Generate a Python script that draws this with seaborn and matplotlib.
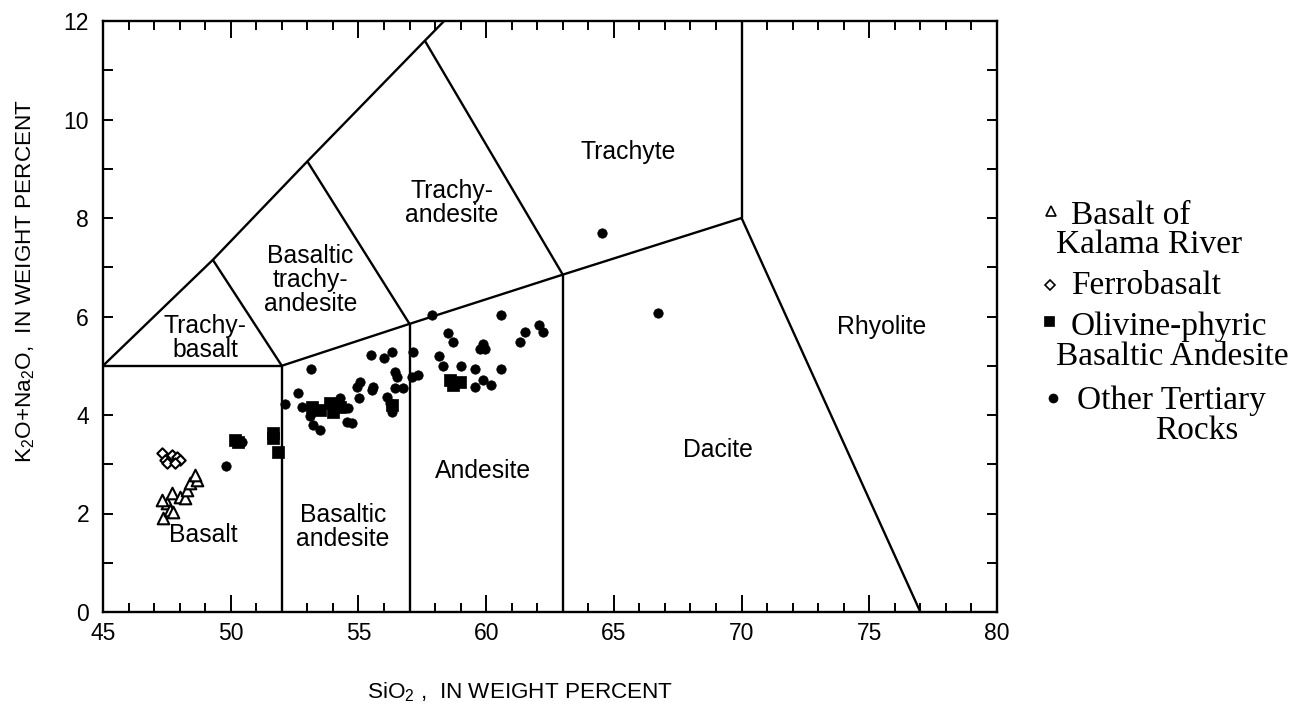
import numpy as np
import pandas as pd
import matplotlib
matplotlib.use("Agg")
import matplotlib.pyplot as plt
import seaborn as sns
from matplotlib.lines import Line2D
from matplotlib.ticker import MultipleLocator

# ---------------- data ----------------
kalama_sio2 = [47.36, 47.49, 47.62, 47.75, 47.30, 47.69, 48.01, 48.21, 48.28, 48.41, 48.67, 48.60]
kalama_alk = [1.90, 2.21, 2.07, 2.04, 2.27, 2.41, 2.34, 2.31, 2.48, 2.61, 2.68, 2.78]

ferro_sio2 = [47.30, 47.43, 47.49, 47.69, 47.88, 48.01, 47.82]
ferro_alk = [3.22, 3.09, 3.02, 3.19, 3.15, 3.09, 3.02]

olivine_sio2 = [50.17, 50.30, 51.64, 51.64, 51.87, 53.17, 53.50, 53.89, 54.28, 54.00,
                56.30, 58.59, 58.98, 58.72]
olivine_alk = [3.49, 3.46, 3.63, 3.53, 3.25, 4.17, 4.10, 4.24, 4.17, 4.07,
               4.20, 4.71, 4.68, 4.61]

other_sio2 = [49.82, 50.43, 52.13, 52.65, 53.13, 52.78, 53.10, 53.24, 53.50, 54.28,
              54.60, 54.54, 54.74, 54.93, 55.06, 55.04, 55.52, 55.58, 55.48, 56.00,
              56.30, 56.43, 56.50, 56.43, 56.11, 56.24, 56.30, 56.76, 57.15, 57.09,
              57.35, 57.87, 60.58, 66.74, 58.50, 58.72, 58.17, 58.30, 59.02, 59.57,
              59.87, 59.76, 59.96, 60.58, 59.89, 59.57, 60.19, 61.33, 61.52, 62.08,
              62.24, 64.55]
other_alk = [2.97, 3.46, 4.22, 4.44, 4.93, 4.17, 3.97, 3.80, 3.70, 4.34,
             4.14, 3.86, 3.84, 4.57, 4.68, 4.34, 4.51, 4.57, 5.22, 5.15,
             5.27, 4.88, 4.78, 4.54, 4.37, 4.24, 4.07, 4.54, 5.27, 4.78,
             4.81, 6.03, 6.03, 6.08, 5.66, 5.49, 5.20, 5.00, 5.00, 4.94,
             5.44, 5.33, 5.33, 4.94, 4.71, 4.56, 4.61, 5.49, 5.69, 5.83,
             5.69, 7.69]

# TAS field boundaries (SiO2, alkali) as drawn in the reference
boundary_x = [
    [45.0, 49.3, 53.0, 57.6, 61.0],
    [45.0, 52.0],
    [52.0, 52.0],
    [49.3, 52.0],
    [52.0, 57.0, 63.0, 70.0],
    [57.0, 57.0],
    [63.0, 63.0],
    [53.0, 57.0],
    [57.6, 63.0],
    [70.0, 70.0],
    [70.0, 77.0],
]
boundary_y = [
    [5.0, 7.15, 9.15, 11.6, 13.4],
    [5.0, 5.0],
    [0.0, 5.0],
    [7.15, 5.0],
    [5.0, 5.85, 6.85, 8.0],
    [0.0, 5.85],
    [0.0, 6.85],
    [9.15, 5.85],
    [11.6, 6.85],
    [8.0, 12.5],
    [8.0, 0.0],
]

field_names = ["Trachyte", "Trachy-\nandesite", "Basaltic\ntrachy-\nandesite",
               "Trachy-\nbasalt", "Rhyolite", "Dacite", "Andesite",
               "Basaltic\nandesite", "Basalt"]
field_x = [65.56, 58.66, 53.12, 48.99, 75.5, 69.08, 59.88, 54.4, 48.92]
field_y = [9.34, 8.30, 6.74, 5.56, 5.79, 3.29, 2.86, 1.73, 1.56]

x_ticks = [45, 50, 55, 60, 65, 70, 75, 80]
y_ticks = [0, 2, 4, 6, 8, 10, 12]

legend_labels = [["Basalt of", "Kalama River"], ["Ferrobasalt"],
                 ["Olivine-phyric", "Basaltic Andesite"], ["Other Tertiary", "Rocks"]]

# ---------------- styling ----------------
sns.set_theme(style="white")
plt.rcParams['font.family'] = ['Liberation Sans', 'DejaVu Sans']
plt.rcParams['mathtext.fontset'] = 'custom'
plt.rcParams['mathtext.rm'] = 'Liberation Sans'
plt.rcParams['mathtext.it'] = 'Liberation Sans'
plt.rcParams['mathtext.bf'] = 'Liberation Sans'

W, H = 1316, 711
fig = plt.figure(figsize=(W / 100, H / 100), dpi=100)
ax = fig.add_axes([103 / W, 1 - 612 / H, 894 / W, 591 / H])

for bx, by in zip(boundary_x, boundary_y):
    ax.plot(bx, by, color="black", lw=1.7, solid_capstyle="butt", zorder=2)

df_k = pd.DataFrame({"SiO2": kalama_sio2, "Alk": kalama_alk})
df_f = pd.DataFrame({"SiO2": ferro_sio2, "Alk": ferro_alk})
df_o = pd.DataFrame({"SiO2": olivine_sio2, "Alk": olivine_alk})
df_t = pd.DataFrame({"SiO2": other_sio2, "Alk": other_alk})

sns.scatterplot(data=df_t, x="SiO2", y="Alk", marker="o", s=46, facecolor="black",
                edgecolor="black", linewidth=0.5, ax=ax, zorder=3)
sns.scatterplot(data=df_o, x="SiO2", y="Alk", marker="s", s=75, facecolor="black",
                edgecolor="black", linewidth=0.5, ax=ax, zorder=3)
sns.scatterplot(data=df_k, x="SiO2", y="Alk", marker="^", s=70, facecolor="white",
                edgecolor="black", linewidth=1.5, ax=ax, zorder=4)
sns.scatterplot(data=df_f, x="SiO2", y="Alk", marker="D", s=28, facecolor="white",
                edgecolor="black", linewidth=1.5, ax=ax, zorder=4)

for name, fx, fy in zip(field_names, field_x, field_y):
    ax.text(fx, fy, name, ha="center", va="center", fontsize=17.8,
            linespacing=1.0, color="black", zorder=5)

ax.set_xlim(45, 80)
ax.set_ylim(0, 12)
ax.set_xticks(x_ticks)
ax.set_yticks(y_ticks)
ax.xaxis.set_minor_locator(MultipleLocator(1))
ax.yaxis.set_minor_locator(MultipleLocator(1))
ax.tick_params(which="both", direction="in", top=True, right=True, bottom=True,
               left=True, width=1.4, color="black", labelcolor="black")
ax.tick_params(axis="x", which="major", length=12, pad=7, labelsize=16.5)
ax.tick_params(axis="x", which="minor", length=6.5)
ax.tick_params(axis="y", which="both", length=7, pad=10, labelsize=16.5)
for sp in ax.spines.values():
    sp.set_color("black")
    sp.set_linewidth(1.7)
    sp.set_visible(True)

ax.set_xlabel(r"SiO$_2$ ,  IN WEIGHT PERCENT", fontsize=16.2, color="black")
ax.set_ylabel(r"K$_2$O+Na$_2$O,  IN WEIGHT PERCENT", fontsize=16.2, color="black")
ax.xaxis.set_label_coords((520 - 103) / 894, (612 - 680) / 591)
ax.yaxis.set_label_coords((37 - 103) / 894, (612 - 281) / 591)

# ---------------- legend (manual, right side) ----------------
def fx_(px):
    return px / W

def fy_(py):
    return 1 - py / H

legend_markers = [
    dict(marker="^", mfc="white", mec="black", ms=7, mew=1.2),
    dict(marker="D", mfc="white", mec="black", ms=5, mew=1.2),
    dict(marker="s", mfc="black", mec="black", ms=7, mew=0.5),
    dict(marker="o", mfc="black", mec="black", ms=6.5, mew=0.5),
]
marker_pos = [(1051, 211), (1050, 285), (1049, 321), (1053, 398)]
line_baselines = [[224, 253], [294], [335, 365], [409, 439]]
line_x = [[1071, 1056], [1071], [1071, 1056], [1077, 1155]]
for i, lm in enumerate(legend_markers):
    mx, my = marker_pos[i]
    fig.add_artist(Line2D([fx_(mx)], [fy_(my)], linestyle="none",
                          transform=fig.transFigure, **lm))
    for txt, bx_, by_ in zip(legend_labels[i], line_x[i], line_baselines[i]):
        fig.text(fx_(bx_), fy_(by_), txt, ha="left", va="baseline",
                 fontsize=24, family=["Liberation Serif", "DejaVu Serif"], color="black")

fig.savefig("out.png", dpi=100, facecolor="white")
